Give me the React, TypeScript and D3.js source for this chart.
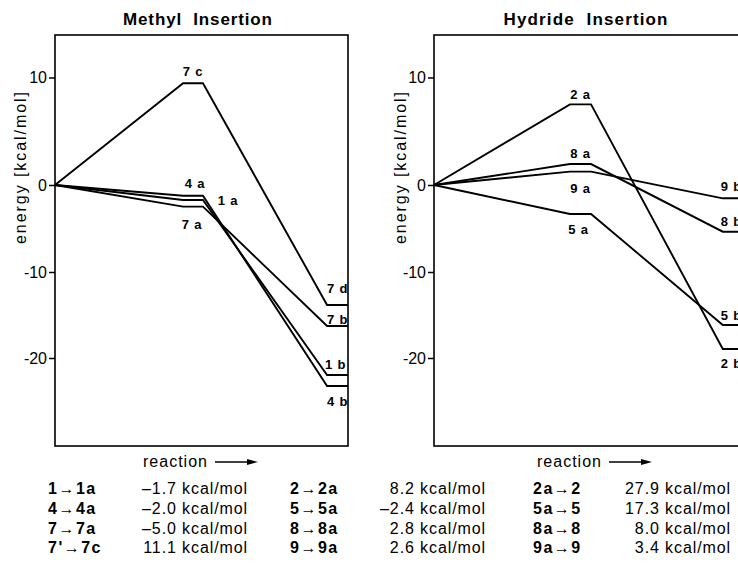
import React, { useRef, useEffect } from 'react'
import * as d3 from 'd3'

// ===== data (energies in kcal/mol) =====
const yTicks = [-20, -10, 0, 10]
// reaction coordinate: reactant, TS plateau start/end, product plateau start/end
const stages = [0, 6.12, 7.07, 13, 14]

const methylTS = ['4 a', '1 a', '7 a', '7 c']
const methylTSEnergy = [-1.23, -1.72, -2.49, 9.46]
const methylProduct = ['4 b', '1 b', '7 b', '7 d']
const methylProductEnergy = [-23.26, -21.98, -16.28, -13.84]

const hydrideTS = ['2 a', '8 a', '9 a', '5 a']
const hydrideTSEnergy = [7.5, 1.95, 1.24, -3.33]
const hydrideProduct = ['2 b', '8 b', '9 b', '5 b']
const hydrideProductEnergy = [-18.95, -5.37, -1.53, -16.16]

// table under the plots
const methylSteps = ['1→1a', '4→4a', '7→7a', "7'→7c"]
const methylStepE = [-1.7, -2.0, -5.0, 11.1]
const hydrideSteps = ['2→2a', '5→5a', '8→8a', '9→9a']
const hydrideStepE = [8.2, -2.4, 2.8, 2.6]
const backSteps = ['2a→2', '5a→5', '8a→8', '9a→9']
const backStepE = [27.9, 17.3, 8.0, 3.4]

// ===== layout =====
const W = 738
const H = 581
const FONT = '"Liberation Sans", Arial, Helvetica, sans-serif'
const yStops = [358, 272, 185, 77.5] // pixel rows of the y ticks (scan is not quite linear)
const frameTop = 35
const frameBottom = 446

// label nudges [dx, dy] relative to the plateau
const labelOffset: Record<string, [number, number]> = {
  '7 c': [0, -7], '4 a': [2, -8], '1 a': [35, 5], '7 a': [-1, 22],
  '7 d': [0, -12], '7 b': [0, -2], '1 b': [-2, -6], '4 b': [0, 20],
  '2 a': [0, -5], '8 a': [0, -6], '9 a': [0, 21], '5 a': [-2, 20],
  '9 b': [-2, -7], '8 b': [-2, -6], '5 b': [-2, -5], '2 b': [-2, 19],
}

const panels = [
  { title: 'Methyl Insertion', left: 55, right: 348, reactionX: 143, ylabelX: 20,
    ts: methylTS, tsE: methylTSEnergy, prod: methylProduct, prodE: methylProductEnergy },
  { title: 'Hydride Insertion', left: 434, right: 745, reactionX: 537, ylabelX: 400,
    ts: hydrideTS, tsE: hydrideTSEnergy, prod: hydrideProduct, prodE: hydrideProductEnergy },
]

const tableCols = [
  { x: 48, anchor: 'start', bold: true, items: methylSteps },
  { x: 248, anchor: 'end', bold: false, items: methylStepE },
  { x: 290, anchor: 'start', bold: true, items: hydrideSteps },
  { x: 486, anchor: 'end', bold: false, items: hydrideStepE },
  { x: 533, anchor: 'start', bold: true, items: backSteps },
  { x: 731, anchor: 'end', bold: false, items: backStepE },
]
const rowBaselines = [494, 514, 534, 553]

const fmtE = (v: number) => (v < 0 ? '–' : '') + Math.abs(v).toFixed(1) + ' kcal/mol'

export default function App() {
  const svgRef = useRef<SVGSVGElement>(null)

  useEffect(() => {
    const svg = d3.select(svgRef.current)
    svg.selectAll('*').remove()

    const y = d3.scaleLinear().domain(yTicks).range(yStops)

    panels.forEach(p => {
      const x = d3.scaleLinear().domain([0, 14]).range([p.left, p.right])
      const g = svg.append('g')
      const mid = (p.left + p.right) / 2

      // title
      g.append('text')
        .attr('x', mid - 4).attr('y', 25)
        .attr('text-anchor', 'middle')
        .attr('font-weight', 'bold').attr('font-size', 17)
        .attr('textLength', p.title === 'Methyl Insertion' ? 149 : 164)
        .style('white-space', 'pre')
        .text(p.title.replace(' ', '  '))

      // frame
      g.append('rect')
        .attr('x', p.left).attr('y', frameTop)
        .attr('width', p.right - p.left).attr('height', frameBottom - frameTop)
        .attr('fill', 'none').attr('stroke', '#000').attr('stroke-width', 1.6)

      // y axis
      const ax = g.append('g')
        .attr('transform', `translate(${p.left},0)`)
        .call(d3.axisLeft(y).tickValues(yTicks).tickSize(6).tickPadding(2).tickFormat(d => String(d)))
      ax.select('.domain').remove()
      ax.selectAll('line').attr('stroke-width', 1.5)
      ax.selectAll('text').attr('font-size', 16).attr('font-family', FONT).attr('fill', '#000')

      // y label
      g.append('text')
        .attr('transform', `translate(${p.ylabelX},168) rotate(-90)`)
        .attr('text-anchor', 'middle').attr('dy', '0.35em')
        .attr('font-size', 16).attr('textLength', 152)
        .text('energy [kcal/mol]')

      // reaction arrow
      g.append('text')
        .attr('x', p.reactionX).attr('y', 467)
        .attr('font-size', 16).attr('textLength', 64)
        .text('reaction')
      const ay = 462
      g.append('line')
        .attr('x1', p.reactionX + 72).attr('x2', p.reactionX + 108)
        .attr('y1', ay).attr('y2', ay)
        .attr('stroke', '#000').attr('stroke-width', 1.5)
      g.append('path')
        .attr('d', `M${p.reactionX + 115},${ay} L${p.reactionX + 104},${ay - 3} L${p.reactionX + 104},${ay + 3} Z`)
        .attr('fill', '#000')

      // energy profiles
      const line = d3.line<[number, number]>()
        .x(d => x(d[0]))
        .y(d => y(d[1]))
      p.ts.forEach((name, i) => {
        const e1 = p.tsE[i]
        const e2 = p.prodE[i]
        const pts: [number, number][] = [
          [stages[0], 0], [stages[1], e1], [stages[2], e1], [stages[3], e2], [stages[4], e2],
        ]
        g.append('path')
          .attr('d', line(pts))
          .attr('fill', 'none').attr('stroke', '#000')
          .attr('stroke-width', 1.9).attr('stroke-linejoin', 'miter')
      })

      // labels
      p.ts.forEach((name, i) => {
        const [dx, dy] = labelOffset[name]
        g.append('text')
          .attr('x', x((stages[1] + stages[2]) / 2) + dx)
          .attr('y', y(p.tsE[i]) + dy)
          .attr('text-anchor', 'middle')
          .attr('font-weight', 'bold').attr('font-size', 13)
          .attr('letter-spacing', 0.8)
          .text(name)
      })
      p.prod.forEach((name, i) => {
        const [dx, dy] = labelOffset[name]
        g.append('text')
          .attr('x', x(stages[3]) + dx)
          .attr('y', y(p.prodE[i]) + dy)
          .attr('font-weight', 'bold').attr('font-size', 13)
          .attr('letter-spacing', 0.8)
          .text(name)
      })
    })

    // table
    tableCols.forEach(col => {
      col.items.forEach((item, r) => {
        svg.append('text')
          .attr('x', col.x).attr('y', rowBaselines[r])
          .attr('text-anchor', col.anchor)
          .attr('font-size', 16)
          .attr('font-weight', col.bold ? 'bold' : 'normal')
          .attr('letter-spacing', col.bold ? 1.5 : 0.9)
          .text(typeof item === 'number' ? fmtE(item) : item)
      })
    })
  }, [])

  return (
    <svg
      ref={svgRef}
      width={W}
      height={H}
      viewBox={`0 0 ${W} ${H}`}
      style={{ position: 'absolute', left: 0, top: 0, background: '#fff', fontFamily: FONT }}
    />
  )
}
